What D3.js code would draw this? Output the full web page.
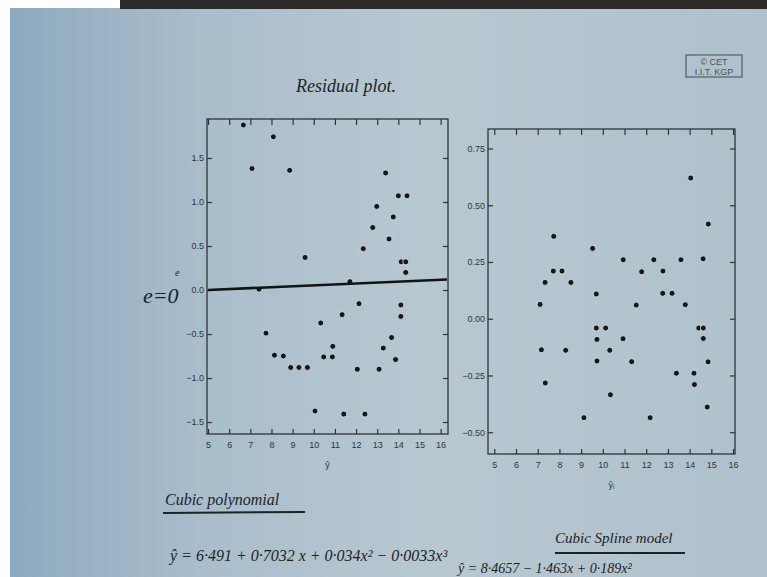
<!DOCTYPE html>
<html><head><meta charset="utf-8">
<script src="https://cdn.jsdelivr.net/npm/d3@7"></script>
<style>html,body{margin:0;padding:0;background:#fff;overflow:hidden}</style>
</head><body>
<svg id="c" width="767" height="577"></svg>
<script>
// ---- data ----
const polyFitted = [6.67,7.08,8.09,8.86,9.59,12.34,12.79,12.98,13.40,13.76,13.56,14.00,14.41,14.14,14.35,14.35,11.71,7.41,7.74,8.14,8.56,8.91,9.30,9.70,10.06,10.33,10.47,10.88,10.90,11.34,11.42,12.06,12.14,12.42,13.09,13.29,13.68,13.87,14.12,14.12];
const polyResid  = [1.875,1.38,1.74,1.36,0.37,0.47,0.71,0.95,1.33,0.83,0.58,1.07,1.07,0.32,0.32,0.20,0.095,0.01,-0.49,-0.74,-0.75,-0.88,-0.88,-0.88,-1.375,-0.375,-0.76,-0.76,-0.64,-0.28,-1.41,-0.90,-0.155,-1.41,-0.90,-0.66,-0.54,-0.79,-0.17,-0.30];
const zeroLineX = [5.0, 16.3];
const zeroLineY = [0.0, 0.12];

const splineFitted = [7.74,7.72,8.12,7.34,8.53,9.53,10.94,11.79,12.35,12.77,13.60,14.05,14.62,14.86,9.70,7.11,11.54,12.76,13.19,13.80,9.70,10.13,9.73,10.93,7.17,8.29,10.32,9.73,11.33,7.35,10.35,9.13,12.18,13.39,14.20,14.22,14.42,14.63,14.63,14.85,14.81];
const splineResid  = [0.363,0.21,0.21,0.16,0.16,0.31,0.26,0.207,0.26,0.21,0.26,0.62,0.264,0.417,0.109,0.063,0.06,0.112,0.112,0.062,-0.041,-0.041,-0.091,-0.088,-0.137,-0.139,-0.139,-0.186,-0.189,-0.283,-0.335,-0.436,-0.436,-0.24,-0.24,-0.29,-0.041,-0.041,-0.087,-0.19,-0.389];

const xTicks = [5,6,7,8,9,10,11,12,13,14,15,16];
const polyYTicks = [-1.5,-1.0,-0.5,0.0,0.5,1.0,1.5];
const splineYTicks = [-0.5,-0.25,0,0.25,0.5,0.75];

const svg = d3.select("#c");
const defs = svg.append("defs");
const g = defs.append("linearGradient").attr("id","bg").attr("x1","0").attr("x2","1").attr("y1","0").attr("y2","0");
[["0%","#8eaac0"],["25%","#a9bdcb"],["55%","#b8c8d1"],["100%","#aec1cc"]].forEach(s=>g.append("stop").attr("offset",s[0]).attr("stop-color",s[1]));

svg.append("rect").attr("width",767).attr("height",577).attr("fill","#fff");
svg.append("rect").attr("x",10).attr("y",8).attr("width",757).attr("height",569).attr("fill","url(#bg)");
svg.append("rect").attr("x",120).attr("y",0).attr("width",647).attr("height",9).attr("fill","#2b2a28");

const hand = "'Liberation Serif', serif";
const tickFont = "'Liberation Sans', Arial, sans-serif";

function panel(opt){
  const x = d3.scaleLinear().domain(opt.xd).range([opt.l,opt.r]);
  const y = d3.scaleLinear().domain(opt.yd).range([opt.b,opt.t]);
  const p = svg.append("g");
  p.append("rect").attr("x",opt.l).attr("y",opt.t).attr("width",opt.r-opt.l).attr("height",opt.b-opt.t)
    .attr("fill","none").attr("stroke","#2e3438").attr("stroke-width",1.3);
  const ax = (gen, tr) => {
    const a = p.append("g").attr("transform",tr).call(gen);
    a.select(".domain").remove();
    a.selectAll("line").attr("stroke","#2e3438").attr("stroke-width",1.2);
    a.selectAll("text").attr("font-family",tickFont).attr("font-size",9).attr("fill","#2f353a");
    return a;
  };
  ax(d3.axisBottom(x).tickValues(xTicks).tickSize(-5).tickPadding(8).tickFormat(d3.format("d")), `translate(0,${opt.b})`);
  ax(d3.axisTop(x).tickValues(xTicks).tickSize(-6).tickFormat(""), `translate(0,${opt.t})`);
  ax(d3.axisLeft(y).tickValues(opt.yt).tickSize(-5).tickPadding(3).tickFormat(opt.yf), `translate(${opt.l},0)`);
  ax(d3.axisRight(y).tickValues(opt.yt).tickSize(-5).tickFormat(""), `translate(${opt.r},0)`);
  p.selectAll("circle.pt").data(opt.xs.map((v,i)=>[v,opt.ys[i]])).join("circle")
    .attr("class","pt").attr("cx",d=>x(d[0])).attr("cy",d=>y(d[1])).attr("r",3)
    .attr("fill","#15181b").attr("stroke","#dfe8ec").attr("stroke-width",0.8);
  p.append("text").attr("x",(opt.l+opt.r)/2+opt.lx).attr("y",opt.b+34).attr("text-anchor","middle")
    .attr("font-family",tickFont).attr("font-size",9).attr("fill","#2f353a").text(opt.xl);
  return {x,y,p};
}

const left = panel({l:207,r:448,t:119,b:434,xd:[4.95,16.35],yd:[-1.636,1.943],
  yt:polyYTicks,yf:d3.format(".1f"),xs:polyFitted,ys:polyResid,xl:"ŷ",lx:0});
left.p.append("path")
  .attr("d",d3.line().x(d=>left.x(d[0])).y(d=>left.y(d[1]))(zeroLineX.map((v,i)=>[v,zeroLineY[i]])))
  .attr("stroke","#121314").attr("stroke-width",2.6).attr("fill","none");

panel({l:488,r:735,t:129,b:454,xd:[4.71,16.09],yd:[-0.596,0.836],
  yt:splineYTicks,yf:d3.format(".2f"),xs:splineFitted,ys:splineResid,xl:"ŷᵢ",lx:0});

// handwritten annotations
const t = (x,y,s,txt,anchor="start") => svg.append("text").attr("x",x).attr("y",y).attr("font-family",hand)
  .attr("font-style","italic").attr("font-size",s).attr("fill","#1d2226").attr("text-anchor",anchor).text(txt);
t(296,92,18,"Residual plot.");
t(143,303,22,"e=0");
t(175,276,10,"e");
t(165,505,16,"Cubic polynomial");
svg.append("line").attr("x1",163).attr("x2",305).attr("y1",513).attr("y2",512).attr("stroke","#1d2226").attr("stroke-width",2);
t(170,561,16,"ŷ = 6·491 + 0·7032 x + 0·034x² − 0·0033x³");
t(555,543,15,"Cubic Spline model");
svg.append("line").attr("x1",555).attr("x2",685).attr("y1",553).attr("y2",553).attr("stroke","#1d2226").attr("stroke-width",2);
t(458,573,14,"ŷ = 8·4657 − 1·463x + 0·189x²");

// logo box
svg.append("rect").attr("x",686).attr("y",55).attr("width",56).attr("height",22).attr("fill","none").attr("stroke","#555c62").attr("stroke-width",1.2);
svg.append("text").attr("x",714).attr("y",65).attr("text-anchor","middle").attr("font-family",tickFont).attr("font-size",9).attr("fill","#4a5258").text("© CET");
svg.append("text").attr("x",714).attr("y",75).attr("text-anchor","middle").attr("font-family",tickFont).attr("font-size",9).attr("fill","#4a5258").text("I.I.T. KGP");
</script>
</body></html>
